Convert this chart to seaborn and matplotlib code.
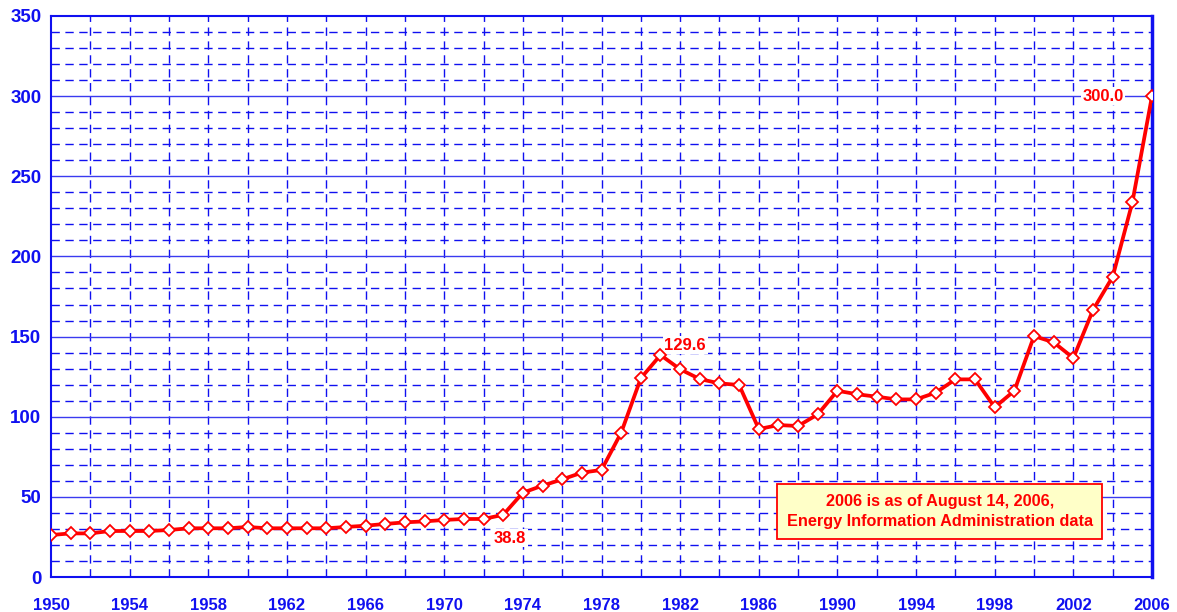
import numpy as np
import pandas as pd
import seaborn as sns
from matplotlib import pyplot as plt

years = list(range(1950, 2007))
values = [26.2, 27.2, 27.2, 28.7, 28.7, 28.7, 29.3, 30.4, 30.4, 30.4,
          31.2, 30.4, 30.4, 30.4, 30.4, 31.2, 32.0, 33.1, 34.1, 34.7,
          35.6, 36.2, 36.2, 38.8, 52.6, 57.0, 60.9, 65.1, 66.8, 90.0,
          124.0, 138.5, 129.6, 123.5, 120.8, 119.8, 92.3, 94.8, 94.2, 101.5,
          116.2, 114.0, 112.5, 110.8, 110.8, 115.0, 123.3, 123.3, 105.9, 116.2,
          150.3, 146.4, 136.6, 166.6, 187.3, 233.7, 300.0]
labels = {1973: "38.8", 1981: "129.6", 2006: "300.0"}
note = "2006 is as of August 14, 2006,\nEnergy Information Administration data"

df = pd.DataFrame({"year": years, "value": values})

sns.set_style("white")
plt.rcParams['font.family'] = ['Liberation Sans', 'DejaVu Sans']
blue = "#1010F0"
red = "#FF0000"

fig = plt.figure(figsize=(11.77, 6.12), dpi=100)
ax = fig.add_axes([51/1177, 35/612, 1101/1177, 561/612])

# grid
for x in range(1952, 2006, 2):
    ax.axvline(x, color=blue, lw=1, ls=(0, (6, 4)), zorder=0)
for y in range(10, 350, 10):
    if y % 50 == 0:
        ax.axhline(y, color="#3A3AF0", lw=1, zorder=0)
    else:
        ax.axhline(y, color=blue, lw=1, ls=(0, (6, 4)), zorder=0)

sns.lineplot(data=df, x="year", y="value", ax=ax, color=red, lw=2.7,
             marker="D", markersize=6, markerfacecolor="white",
             markeredgecolor=red, markeredgewidth=1.3, zorder=3)

ax.set_xlim(1950, 2006)
ax.set_ylim(0, 350)
ax.set_xticks(range(1950, 2007, 2))
ax.set_xticklabels([str(y) if (y - 1950) % 4 == 0 else "" for y in range(1950, 2007, 2)])
ax.set_yticks(range(0, 351, 50))
ax.set_xlabel("")
ax.set_ylabel("")
for s in ax.spines.values():
    s.set_color(blue)
    s.set_linewidth(1.5)
ax.spines['right'].set_linewidth(2.5)
ax.tick_params(axis='both', colors=blue, length=5, width=1.2, direction='out')
ax.tick_params(axis='x', pad=10, labelsize=12)
ax.tick_params(axis='y', pad=2, labelsize=13.5)
for t in ax.get_xticklabels() + ax.get_yticklabels():
    t.set_fontweight('bold')
    t.set_color(blue)

d = dict(zip(years, values))
lbl_box = dict(boxstyle='square,pad=0.1', fc='white', ec='none')
ax.text(1973.35, 24.3, labels[1973], color=red, fontsize=12, fontweight='bold',
        ha='center', va='center', bbox=lbl_box, zorder=2)
ax.text(1982.25, 144.7, labels[1981], color=red, fontsize=12, fontweight='bold',
        ha='center', va='center', bbox=lbl_box, zorder=2)
ax.text(2004.55, d[2006], labels[2006], color=red, fontsize=12, fontweight='bold',
        ha='right', va='center', bbox=lbl_box, zorder=2)

ax.text(1995.2, 41, note, color=red, fontsize=11.7, fontweight='bold', ha='center', va='center',
        linespacing=1.45, zorder=5,
        bbox=dict(boxstyle='square,pad=0.6', fc='#FFFFC8', ec=red, lw=1.3))

fig.savefig("out.png", dpi=100)
